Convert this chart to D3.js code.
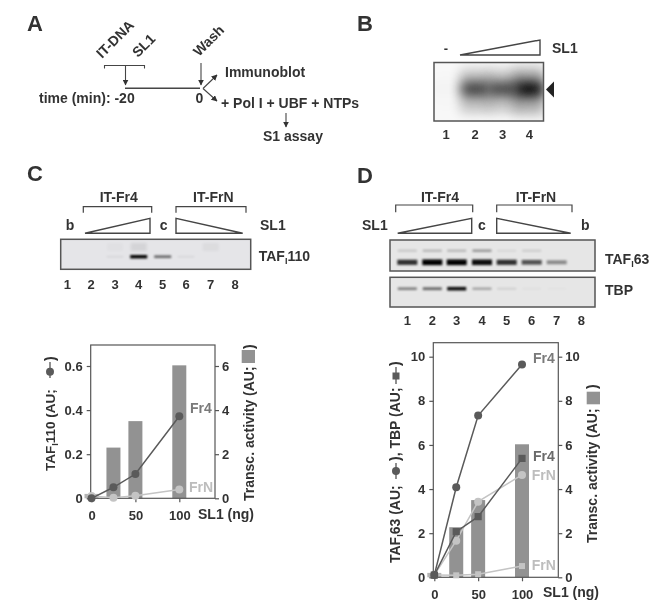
<!DOCTYPE html>
<html>
<head>
<meta charset="utf-8">
<script src="https://cdn.jsdelivr.net/npm/d3@7"></script>
<style>
	html, body { margin: 0; padding: 0; background: #fff; }
	svg { display: block; }
	text { font-family: "Liberation Sans", Arial, sans-serif; font-weight: bold; fill: #333; }
</style>
</head>
<body>
<svg id="fig" width="661" height="602"></svg>
<script>
// chart values
var doses = [0, 25, 50, 100];
var cBars = [0.2, 2.3, 3.5, 6.03];
var cFr4 = [0, 0.05, 0.11, 0.372];
var cFrN = [0.01, 0.003, 0.012, 0.04];
var dBars = [0.2, 2.27, 3.5, 6.03];
var dTaf63Fr4 = [0.1, 4.08, 7.33, 9.65];
var dTbpFr4 = [0.1, 2.07, 2.75, 5.39];
var dTaf63FrN = [0.1, 1.66, 3.43, 4.64];
var dTbpFrN = [0.1, 0.09, 0.14, 0.51];
var xTicks = [0, 50, 100];
var cLeftTicks = [0, 0.2, 0.4, 0.6];
var cRightTicks = [0, 2, 4, 6];
var dTicks = [0, 2, 4, 6, 8, 10];

// gel bands, one strength per lane (0 = nothing, 1 = black)
var laneNames = ["1", "2", "3", "4", "5", "6", "7", "8"];
var gelBLanes = [0.02, 0.72, 0.7, 0.98];
var gelCMain = [0, 0, 0.06, 1, 0.55, 0.06, 0, 0];
var gelCUpper = [0, 0, 0.02, 0.07, 0, 0, 0.04, 0];
var gelD63Main = [0.8, 1, 1, 0.95, 0.8, 0.65, 0.4, 0];
var gelD63Upper = [0.15, 0.22, 0.22, 0.35, 0.07, 0.12, 0, 0];
var gelDTbp = [0.45, 0.55, 0.95, 0.3, 0.1, 0.03, 0.02, 0];

var svg = d3.select("#fig");
var ink = "#444";
var darkLine = "#5a5a5a";
var lightLine = "#c4c4c4";
var barGrey = "#929292";

var defs = svg.append("defs");
[["blur1", 1], ["blur2", 1.6], ["blur7", 6]].forEach(function(b) {
	defs.append("filter").attr("id", b[0])
		.attr("x", "-50%").attr("y", "-100%").attr("width", "200%").attr("height", "300%")
		.append("feGaussianBlur").attr("stdDeviation", b[1]);
});
// the whole figure is a little soft, like a scan
defs.append("filter").attr("id", "soft").attr("filterUnits", "userSpaceOnUse")
	.attr("x", 0).attr("y", 0).attr("width", 661).attr("height", 602)
	.append("feGaussianBlur").attr("stdDeviation", 0.4);
defs.append("marker").attr("id", "arrow").attr("viewBox", "0 0 10 10")
	.attr("refX", 9).attr("refY", 5).attr("markerWidth", 6).attr("markerHeight", 6)
	.attr("markerUnits", "userSpaceOnUse").attr("orient", "auto")
	.append("path").attr("d", "M0 0 L10 5 L0 10 Z").attr("fill", "#333");

var root = svg.append("g").attr("class", "page").attr("filter", "url(#soft)");

/*
Plain text label
*/
function label(x, y, str, size, anchor, color) {
	return root.append("text").attr("x", x).attr("y", y).text(str)
		.attr("font-size", size || 14)
		.attr("text-anchor", anchor || "start")
		.style("fill", color || "#333");
}

/*
Text turned by some angle round its start
*/
function turned(x, y, angle, str, size) {
	return root.append("text").text(str)
		.attr("transform", "translate(" + x + "," + y + ") rotate(" + angle + ")")
		.attr("font-size", size || 14);
}

/*
TAF with the small subscript I, then the rest of the name
*/
function tafText(sel, rest) {
	sel.text(null);
	sel.append("tspan").text("TAF");
	sel.append("tspan").text("I").attr("font-size", 9).attr("dy", 3);
	sel.append("tspan").text(rest).attr("dy", -3);
	return sel;
}

function line(x1, y1, x2, y2, width, withArrow) {
	var l = root.append("line").attr("x1", x1).attr("y1", y1).attr("x2", x2).attr("y2", y2)
		.attr("stroke", ink).attr("stroke-width", width || 1.2);
	if (withArrow) l.attr("marker-end", "url(#arrow)");
	return l;
}

function bracket(x1, x2, y1, y2) {
	root.append("path").attr("d", "M" + x1 + " " + y2 + " V" + y1 + " H" + x2 + " V" + y2)
		.attr("fill", "none").attr("stroke", ink).attr("stroke-width", 1.2);
}

// rising wedge when up is true, falling otherwise
function wedge(x1, x2, top, bottom, up) {
	var d = up ? "M" + x1 + " " + bottom + " L" + x2 + " " + top + " V" + bottom + " Z"
		: "M" + x1 + " " + top + " V" + bottom + " H" + x2 + " Z";
	root.append("path").attr("d", d).attr("fill", "#fff").attr("stroke", ink).attr("stroke-width", 1.4);
}

/*
Gel frame with blurred bands inside it
*/
function gel(id, x, y, w, h, bg) {
	defs.append("clipPath").attr("id", id).append("rect").attr("x", x).attr("y", y).attr("width", w).attr("height", h);
	root.append("rect").attr("x", x).attr("y", y).attr("width", w).attr("height", h).attr("fill", bg);
	var g = root.append("g").attr("clip-path", "url(#" + id + ")");
	root.append("rect").attr("x", x).attr("y", y).attr("width", w).attr("height", h)
		.attr("fill", "none").attr("stroke", "#555").attr("stroke-width", 1.5);
	return g;
}

// stronger bands are drawn a bit thicker
function bands(g, lanes, values, scale, cy, w, h, blur) {
	g.append("g").selectAll("rect").data(values).join("rect")
		.attr("x", function(d, i) { return scale(lanes[i]) - w / 2; })
		.attr("y", function(d) { return cy - h * (0.55 + 0.6 * d) / 2; })
		.attr("width", w)
		.attr("height", function(d) { return h * (0.55 + 0.6 * d); })
		.attr("fill", "#000").attr("opacity", function(d) { return d; })
		.attr("filter", "url(#" + blur + ")");
}

function laneLabels(lanes, scale, y) {
	lanes.forEach(function(n) { label(scale(n), y, n, 13, "middle"); });
}

/*
Bar and line plot with a left and a right axis
*/
function plot(o) {
	var x = d3.scaleLinear().domain([0, 100]).range([o.x0, o.x100]);
	var yL = d3.scaleLinear().domain(o.leftDomain).range([o.bottom, o.yMax]);
	var yR = d3.scaleLinear().domain(o.rightDomain).range([o.bottom, o.yMax]);
	var g = root.append("g");

	g.append("g").selectAll("rect").data(o.bars).join("rect")
		.attr("x", function(d, i) { return x(doses[i]) - o.barWidth / 2; })
		.attr("y", function(d) { return yR(d); })
		.attr("width", o.barWidth)
		.attr("height", function(d) { return o.bottom - yR(d); })
		.attr("fill", function(d, i) { return i === 0 ? "#b4b4b4" : barGrey; });

	g.append("rect").attr("x", o.left).attr("y", o.top).attr("width", o.right - o.left).attr("height", o.bottom - o.top)
		.attr("fill", "none").attr("stroke", "#555").attr("stroke-width", 1.2);

	var ax = [
		[d3.axisBottom(x).tickValues(xTicks).tickPadding(8), "translate(0," + o.bottom + ")"],
		[d3.axisLeft(yL).tickValues(o.leftTicks).tickPadding(4), "translate(" + o.left + ",0)"],
		[d3.axisRight(yR).tickValues(o.rightTicks).tickPadding(3), "translate(" + o.right + ",0)"]
	];
	ax.forEach(function(a) {
		var s = g.append("g").attr("transform", a[1]).call(a[0].tickSize(4).tickFormat(function(d) { return d; }));
		s.select(".domain").remove();
		s.selectAll("line").attr("stroke", "#555").attr("stroke-width", 1.2);
		s.selectAll("text").attr("font-size", 13).style("font-family", '"Liberation Sans", Arial, sans-serif').style("font-weight", "bold").style("fill", "#333");
	});

	var path = d3.line().x(function(d, i) { return x(doses[i]); }).y(function(d) { return yL(d); });
	o.series.forEach(function(s) {
		g.append("path").attr("d", path(s.values)).attr("fill", "none").attr("stroke", s.color).attr("stroke-width", 1.5);
		var m = g.append("g").selectAll("g").data(s.values).join("g")
			.attr("transform", function(d, i) { return "translate(" + x(doses[i]) + "," + yL(d) + ")"; });
		if (s.square) {
			m.append("rect").attr("x", -s.size).attr("y", -s.size).attr("width", s.size * 2).attr("height", s.size * 2).attr("fill", s.color);
		} else {
			m.append("circle").attr("r", s.size).attr("fill", s.color);
		}
	});
}

// panel letters
label(27, 31, "A", 22);
label(357, 31, "B", 22);
label(27, 181, "C", 22);
label(357, 183, "D", 22);

// panel A, the scheme
turned(102, 59, -45, "IT-DNA");
turned(138, 58, -45, "SL1");
turned(199, 57, -45, "Wash");
root.append("path").attr("d", "M104.5 68.5 V65.5 H144.5 V68.5").attr("fill", "none").attr("stroke", ink).attr("stroke-width", 1.1);
line(125.5, 66, 125.5, 85, 1.1, true);
line(125, 88.3, 200, 88.3, 1.4);
line(201, 63, 201, 85, 1.1, true);
line(203, 88.5, 217, 75, 1.1, true);
line(203, 88.5, 217, 101, 1.1, true);
label(225, 77, "Immunoblot");
label(39, 103, "time (min): -20");
label(199.5, 103, "0", 14, "middle");
label(221, 108, "+ Pol I + UBF + NTPs");
line(286, 113, 286, 127, 1.1, true);
label(263, 141, "S1 assay");

// panel B
var bLanes = laneNames.slice(0, 4);
var bScale = d3.scaleOrdinal().domain(bLanes).range([446, 475, 502.7, 529.3]);
var gelB = gel("gelB", 434, 62.5, 109.5, 58.5, "#f8f8f8");
bands(gelB, bLanes, gelBLanes.map(function(d) { return d * 0.32; }), bScale, 91, 30, 62, "blur7");
bands(gelB, bLanes, gelBLanes, bScale, 89, 27, 13, "blur7");
label(446, 53, "-", 13, "middle");
wedge(460, 540, 40, 55, true);
label(552, 53, "SL1");
root.append("path").attr("d", "M546 89.5 L554 81.5 V97.5 Z").attr("fill", "#222");
laneLabels(bLanes, bScale, 139);

// panel C, gel
var cScale = d3.scaleOrdinal().domain(laneNames).range([67.3, 91, 115, 138.7, 162.7, 186, 210.7, 235]);
label(118.7, 202, "IT-Fr4", 14, "middle");
label(213.3, 202, "IT-FrN", 14, "middle");
bracket(83.3, 151.7, 206.7, 212.7);
bracket(176, 246, 206.7, 212.7);
label(70, 230, "b", 14, "middle");
label(163.7, 230, "c", 14, "middle");
wedge(85, 150, 218.3, 233.3, true);
wedge(176, 242.7, 218.3, 233.3, false);
label(260, 230, "SL1");
var gelC = gel("gelC", 60.7, 239.3, 190, 30, "#e5e5e8");
bands(gelC, laneNames, gelCUpper, cScale, 247, 16, 14, "blur2");
bands(gelC, laneNames, gelCMain, cScale, 256.7, 17, 3, "blur1");
tafText(label(258.7, 261, ""), "110");
laneLabels(laneNames, cScale, 289);

// panel C, plot
plot({
	left: 90.7, right: 215, top: 345, bottom: 498.3, x0: 91.5, x100: 179.3,
	yMax: 366, leftDomain: [0, 0.6], rightDomain: [0, 6],
	leftTicks: cLeftTicks, rightTicks: cRightTicks, bars: cBars, barWidth: 14,
	series: [
		{ values: cFrN, color: lightLine, size: 4 },
		{ values: cFr4, color: darkLine, size: 4 }
	]
});
label(190, 413, "Fr4", 14, "start", "#7a7a7a");
label(189, 492, "FrN", 14, "start", "#bdbdbd");
label(198, 519, "SL1 (ng)");
tafText(turned(55, 471, -90, ""), "110 (AU;").attr("font-size", 13.5);
line(50, 378, 50, 362, 1.2);
root.append("circle").attr("cx", 50).attr("cy", 371.7).attr("r", 4).attr("fill", darkLine);
turned(55, 361, -90, ")");
turned(254, 501, -90, "Transc. activity (AU;");
turned(254, 349, -90, ")");
root.append("rect").attr("x", 241.7).attr("y", 350).attr("width", 13.3).attr("height", 13).attr("fill", barGrey);

// panel D, gels
var dScale = d3.scaleOrdinal().domain(laneNames).range([407.3, 432.3, 456.7, 482, 506.7, 531.7, 556.7, 581.3]);
label(440, 201.5, "IT-Fr4", 14, "middle");
label(536, 201.5, "IT-FrN", 14, "middle");
bracket(395.7, 472.7, 205, 212.3);
bracket(496.7, 572, 205, 212.3);
label(362, 229.5, "SL1");
label(482, 229.5, "c", 14, "middle");
label(585.3, 229.5, "b", 14, "middle");
wedge(397.7, 471.7, 218.3, 233.3, true);
wedge(496.7, 570.7, 218.3, 233.3, false);
var gelD1 = gel("gelD1", 390, 240, 205, 31, "#e6e6e6");
bands(gelD1, laneNames, gelD63Upper, dScale, 250.7, 19, 3.2, "blur1");
bands(gelD1, laneNames, gelD63Main, dScale, 262.3, 20, 5, "blur1");
var gelD2 = gel("gelD2", 390, 277.3, 205, 29.7, "#e6e6e6");
bands(gelD2, laneNames, gelDTbp, dScale, 288.7, 19, 3.2, "blur1");
tafText(label(605, 263.5, ""), "63");
label(605, 295, "TBP");
laneLabels(laneNames, dScale, 325);

// panel D, plot
plot({
	left: 433.3, right: 558.3, top: 342.7, bottom: 577.3, x0: 434.3, x100: 522,
	yMax: 356.7, leftDomain: [0, 10], rightDomain: [0, 10],
	leftTicks: dTicks, rightTicks: dTicks, bars: dBars, barWidth: 14,
	series: [
		{ values: dTaf63FrN, color: lightLine, size: 4 },
		{ values: dTbpFrN, color: lightLine, size: 3, square: true },
		{ values: dTbpFr4, color: darkLine, size: 3.6, square: true },
		{ values: dTaf63Fr4, color: darkLine, size: 4 }
	]
});
label(533, 363, "Fr4", 14, "start", "#7a7a7a");
label(533, 461, "Fr4", 14, "start", "#6a6a6a");
label(531.7, 480, "FrN", 14, "start", "#bdbdbd");
label(531.7, 569.5, "FrN", 14, "start", "#bdbdbd");
label(543, 597, "SL1 (ng)");
tafText(turned(400, 563, -90, ""), "63 (AU;");
line(396, 479, 396, 463, 1.2);
root.append("circle").attr("cx", 396).attr("cy", 471).attr("r", 4).attr("fill", darkLine);
turned(400, 461, -90, "), TBP (AU;");
line(396, 384, 396, 367, 1.2);
root.append("rect").attr("x", 392.5).attr("y", 372.5).attr("width", 7).attr("height", 7).attr("fill", darkLine);
turned(400, 366, -90, ")");
turned(597, 543, -90, "Transc. activity (AU;");
turned(597, 389, -90, ")");
root.append("rect").attr("x", 586.7).attr("y", 391.7).attr("width", 13.3).attr("height", 12.6).attr("fill", barGrey);
</script>
</body>
</html>
